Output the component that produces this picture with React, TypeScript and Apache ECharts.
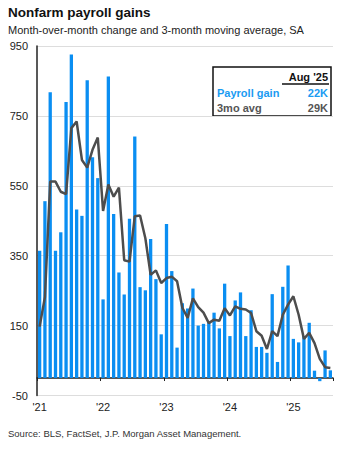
import React, { useEffect, useRef } from "react";
import * as echarts from "echarts";

const months: string[] = [];
for (let y = 2021; y <= 2025; y++) {
  for (let m = 1; m <= 12; m++) {
    if (y === 2025 && m > 8) break;
    months.push(`${y}-${String(m).padStart(2, "0")}`);
  }
}

const payrollGain = [
  364, 506, 818, 364, 417, 790, 926, 482, 464, 852, 632, 572,
  225, 863, 469, 302, 239, 456, 691, 260, 251, 398, 283, 125,
  441, 306, 87, 214, 199, 256, 150, 155, 160, 187, 142, 270,
  120, 222, 245, 120, 194, 89, 89, 72, 240, 46, 261, 322,
  112, 102, 120, 158, 21, -9, 79, 22,
];

const avg3mo = [
  147, 232, 562, 562, 533, 526, 715, 734, 624, 602, 653, 688,
  478, 554, 519, 545, 337, 333, 463, 465, 400, 295, 308, 272,
  286, 290, 277, 201, 172, 228, 203, 187, 157, 167, 164, 200,
  179, 205, 198, 196, 186, 134, 121, 83, 134, 120, 181, 210,
  234, 181, 112, 129, 100, 55, 31, 29,
];

const yTicks = { min: -50, max: 950, interval: 200 };

const FONT = "'Liberation Sans', Arial, sans-serif";
const BLUE = "#0A8EF2";
const GRAY = "#4D4D4D";

export default function App() {
  const ref = useRef<HTMLDivElement>(null);
  useEffect(() => {
    if (!ref.current) return;
    const chart = echarts.init(ref.current, undefined, { renderer: "svg" });
    chart.setOption({
      animation: false,
      textStyle: { fontFamily: FONT },
      grid: { left: 37, right: 28, top: 46, bottom: 61.5, containLabel: false },
      xAxis: {
        type: "category",
        data: months,
        boundaryGap: true,
        axisLine: { onZero: true, lineStyle: { color: "#222", width: 1.5 } },
        axisTick: {
          show: true,
          alignWithLabel: false,
          interval: (i: number) => i % 12 === 0,
          length: 3,
          lineStyle: { color: "#222", width: 1 },
        },
        axisLabel: {
          interval: (i: number) => i % 12 === 0,
          formatter: (v: string) => "'" + v.slice(2, 4),
          margin: 6,
          fontSize: 11,
          color: "#222",
          fontFamily: FONT,
        },
        splitLine: { show: false },
      },
      yAxis: {
        type: "value",
        min: yTicks.min,
        max: yTicks.max,
        interval: yTicks.interval,
        axisLine: { show: true, lineStyle: { color: "#222", width: 1.5 } },
        axisTick: { show: false },
        axisLabel: { fontSize: 11, color: "#222", margin: 9, fontFamily: FONT },
        splitLine: { show: true, lineStyle: { color: "#DDDDDD", width: 1 } },
      },
      series: [
        {
          name: "Payroll gain",
          type: "bar",
          data: payrollGain,
          barWidth: 3.3,
          itemStyle: { color: BLUE },
          z: 2,
        },
        {
          name: "3mo avg",
          type: "line",
          data: avg3mo,
          symbol: "none",
          lineStyle: { color: GRAY, width: 2.5 },
          z: 3,
        },
      ],
      graphic: [
        {
          type: "text",
          left: 8,
          top: 5,
          style: { text: "Nonfarm payroll gains", font: `bold 13.5px ${FONT}`, fill: "#111" },
        },
        {
          type: "text",
          left: 8,
          top: 24,
          style: { text: "Month-over-month change and 3-month moving average, SA", font: `11px ${FONT}`, fill: "#222" },
        },
        {
          type: "text",
          left: 8,
          top: 428,
          style: { text: "Source: BLS, FactSet, J.P. Morgan Asset Management.", font: `9.5px ${FONT}`, fill: "#333" },
        },
        {
          type: "group",
          z: 100,
          children: [
            {
              type: "rect",
              shape: { x: 213, y: 67, width: 118, height: 49 },
              style: { fill: "#fff", stroke: "#111", lineWidth: 1.5 },
            },
            {
              type: "text",
              x: 328,
              y: 77,
              style: { text: "Aug '25", font: `bold 11px ${FONT}`, fill: "#111", align: "right", verticalAlign: "middle" },
            },
            {
              type: "line",
              shape: { x1: 282, y1: 84, x2: 329, y2: 84 },
              style: { stroke: "#111", lineWidth: 1.5 },
            },
            {
              type: "text",
              x: 217,
              y: 93,
              style: { text: "Payroll gain", font: `bold 11px ${FONT}`, fill: "#1A9BF2", align: "left", verticalAlign: "middle" },
            },
            {
              type: "text",
              x: 328,
              y: 93,
              style: { text: "22K", font: `bold 11px ${FONT}`, fill: "#1A9BF2", align: "right", verticalAlign: "middle" },
            },
            {
              type: "text",
              x: 217,
              y: 108,
              style: { text: "3mo avg", font: `bold 11px ${FONT}`, fill: "#555", align: "left", verticalAlign: "middle" },
            },
            {
              type: "text",
              x: 328,
              y: 108,
              style: { text: "29K", font: `bold 11px ${FONT}`, fill: "#555", align: "right", verticalAlign: "middle" },
            },
          ],
        },
      ],
    });
    return () => chart.dispose();
  }, []);
  return <div ref={ref} style={{ width: 361, height: 457, position: "absolute", left: 0, top: 0 }} />;
}
